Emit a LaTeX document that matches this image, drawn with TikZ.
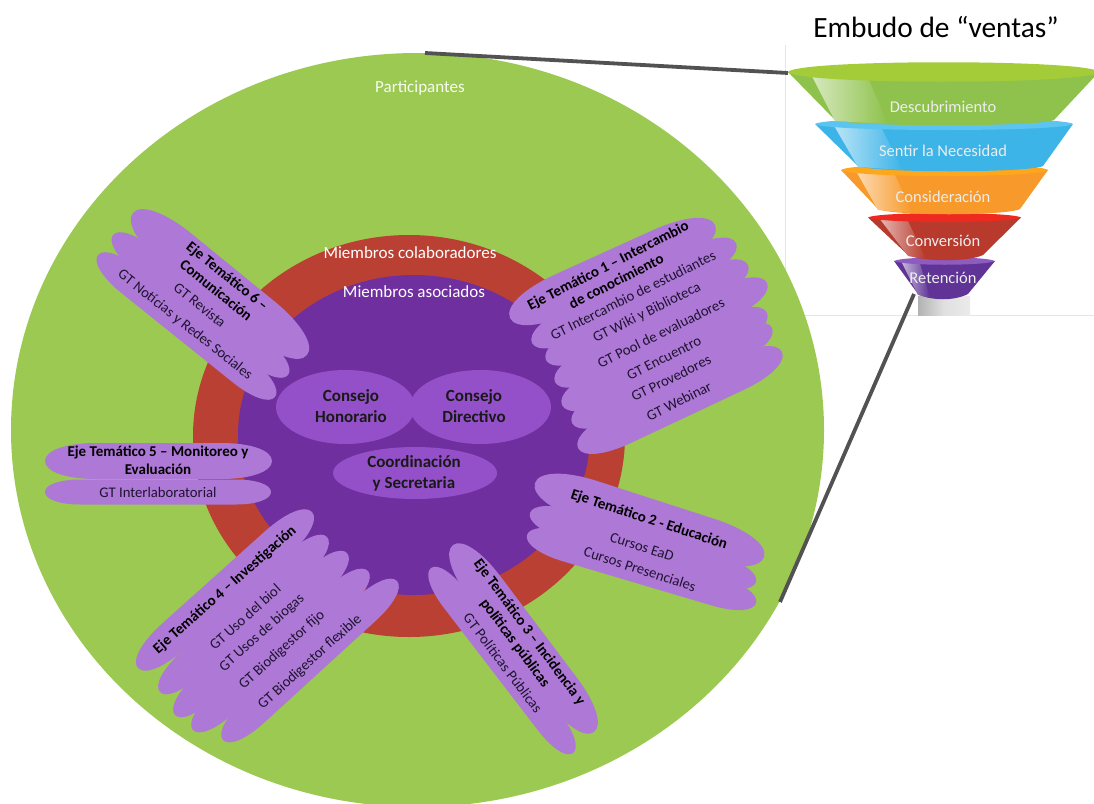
\documentclass[tikz,border=0pt]{standalone}
\usepackage{fontspec}
\setmainfont{Carlito}
\definecolor{cgreen}{HTML}{9CC952}
\definecolor{cred}{HTML}{BA4033}
\definecolor{cpurple}{HTML}{6F2F9F}
\definecolor{cell}{HTML}{9450C8}
\definecolor{cpetal}{HTML}{AE78D6}
\definecolor{cink}{HTML}{1E1430}
\definecolor{fgreenT}{HTML}{A3CC38}\definecolor{fgreenB}{HTML}{8FC24D}
\definecolor{fblueT}{HTML}{5CC4F0}\definecolor{fblueB}{HTML}{3DB4E8}
\definecolor{forangeT}{HTML}{FFA71C}\definecolor{forangeB}{HTML}{F79A2B}
\definecolor{fredT}{HTML}{EE2A20}\definecolor{fredB}{HTML}{B83A2D}
\definecolor{fpurpT}{HTML}{8E5BBF}\definecolor{fpurpB}{HTML}{5F3496}
\tikzset{
  petalshape/.style={fill=cpetal,draw=none},
  lab/.style={font=\fontsize{14.7}{16}\selectfont,text=cink,align=center,inner sep=0pt},
  blab/.style={font=\fontsize{15}{18}\selectfont\bfseries,text=black,align=center,inner sep=0pt},
  wlab/.style={font=\fontsize{17}{20}\selectfont,text=white,inner sep=0pt},
  flab/.style={font=\fontsize{16.5}{18}\selectfont,text=white!93!black,inner sep=0pt},
  clab/.style={font=\fontsize{17}{21}\selectfont\bfseries,text=black!90,align=center,inner sep=0pt},
  conn/.style={draw=black!68,line width=3.8pt},
}
\newcommand{\petal}[5]{%
  \pgfmathsetmacro{\pcx}{(#1+#3)/2}%
  \pgfmathsetmacro{\pcy}{(#2+#4)/2}%
  \pgfmathsetmacro{\pang}{atan2(-(#4-#2),#3-#1)}%
  \pgfmathsetmacro{\pL}{veclen(#3-#1,#4-#2)/2}%
  \pgfmathsetmacro{\pW}{#5}%
  \pgfmathsetmacro{\pA}{\pL-2.8*\pW}%
  \pgfmathsetmacro{\pB}{\pL-1.2*\pW}%
  \begin{scope}[shift={(\pcx,\pcy)},rotate=\pang]
    \fill[petalshape] (-\pL,0) .. controls (-\pL,-0.6*\pW) and (-\pB,-\pW) .. (-\pA,-\pW)
      -- (\pA,-\pW) .. controls (\pB,-\pW) and (\pL,-0.6*\pW) .. (\pL,0)
      .. controls (\pL,0.6*\pW) and (\pB,\pW) .. (\pA,\pW)
      -- (-\pA,\pW) .. controls (-\pB,\pW) and (-\pL,0.6*\pW) .. (-\pL,0) -- cycle;
  \end{scope}}
% top colour, body colour, xl, xr, ytop, xbl, xbr, ybot, lens bulge
\newcommand{\flayer}[9]{%
  \fill[#2] (#3,#5) -- (#6,#8) .. controls (#6+14,#8+7) and (#7-14,#8+7) .. (#7,#8) -- (#4,#5) -- cycle;
  \shade[left color=white!65!#2,right color=#2] (#3+0.07*#4-0.07*#3,#5) -- (#6,#8+1)
     -- (#6+0.24*#7-0.24*#6,#8+4) -- (#3+0.25*#4-0.25*#3,#5) -- cycle;
  \fill[#1] (#3,#5) .. controls (#3+10,#5-#9) and (#4-10,#5-#9) .. (#4,#5)
     .. controls (#4-10,#5+#9) and (#3+10,#5+#9) .. (#3,#5) -- cycle;
}
\begin{document}
\begin{tikzpicture}[x=1pt,y=-1pt]
\useasboundingbox (0,0) rectangle (1094,803);
\begin{scope}
\clip (0,0) rectangle (1094,803);
% funnel picture frame
\draw[black!10,line width=0.6pt] (785,45) -- (785,315) -- (1094,315);
% main circles
\fill[cgreen] (417.5,430) ellipse (406.5 and 377);
\fill[cred] (409,436) ellipse (216 and 201);
\fill[cpurple] (414,435) ellipse (176 and 160);
\node[wlab,text=white!92!cgreen] (part) at (420,88) {Participantes};
\node[wlab] (colab) at (410,253) {Miembros colaboradores};
\node[wlab] (asoc) at (414,292) {Miembros asociados};
% councils
\fill[cell] (345.5,407) ellipse (69.5 and 37);
\fill[cell] (480.5,407) ellipse (70.5 and 37);
\fill[cell] (415,473) ellipse (82 and 26);
\node[clab] (hon) at (351,406.5) {Consejo\\Honorario};
\node[clab] (dir) at (474,406.5) {Consejo\\Directivo};
\node[clab] (coord) at (414,473.5) {Coordinación\\y Secretaria};
% eje 1
\petal{510}{318}{715}{225}{21}
\petal{532}{343}{736}{243}{17}
\petal{546}{360}{748}{265}{17}
\petal{555}{382}{767}{283}{17}
\petal{562}{405}{767}{313}{18}
\petal{572}{423}{772}{328}{17}
\petal{578}{448}{782}{352}{18}
\node[blab,rotate=27] (e1) at (612,273) {Eje Temático 1 – Intercambio\\de conocimiento};
\node[lab,rotate=26.5] (e1a) at (633,295) {GT Intercambio de estudiantes};
\node[lab,rotate=26.5] (e1b) at (647,313) {GT Wiki y Biblioteca};
\node[lab,rotate=26.5] (e1c) at (661,333) {GT Pool de evaluadores};
\node[lab,rotate=26.5] (e1d) at (664,358) {GT Encuentro};
\node[lab,rotate=26.5] (e1e) at (671,378) {GT Provedores};
\node[lab,rotate=26.5] (e1f) at (679,401) {GT Webinar};
% eje 6
\petal{133}{213}{307}{355}{21}
\petal{113}{235}{288}{375}{15}
\petal{98}{255}{275}{397}{15}
\node[blab,rotate=-39] (e6) at (222,283) {Eje Temático 6 –\\Comunicación};
\node[lab,rotate=-39] (e6a) at (200,305) {GT Revista};
\node[lab,rotate=-38.5] (e6b) at (185,325) {GT Notícias y Redes Sociales};
% eje 5
\petal{45}{461}{272}{461}{18}
\petal{45}{492}{271}{492}{12.5}
\node[blab] (e5) at (158,460.5) {Eje Temático 5 – Monitoreo y\\Evaluación};
\node[lab] (e5a) at (158,492) {GT Interlaboratorial};
% eje 4
\petal{138}{668}{312}{512}{17}
\petal{160}{692}{327}{537}{15}
\petal{175}{715}{347}{553}{15}
\petal{193}{730}{368}{571}{15}
\petal{223}{740}{397}{581}{15}
\node[blab,rotate=41.5] (e4) at (225,590) {Eje Temático 4 – Investigación};
\node[lab,rotate=42] (e4a) at (245,617) {GT Uso del biol};
\node[lab,rotate=42] (e4b) at (262,633) {GT Usos de biogas};
\node[lab,rotate=42] (e4c) at (282,650) {GT Biodigestor fijo};
\node[lab,rotate=42] (e4d) at (310,662) {GT Biodigestor flexible};
% eje 3
\petal{453}{545}{594}{732}{19}
\petal{431}{568}{573}{753}{14}
\node[blab,rotate=-53.5] (e3) at (522,638) {Eje Temático 3 – Incidencia y\\políticas públicas};
\node[lab,rotate=-53] (e3a) at (503,663) {GT Políticas Públicas};
% eje 2
\petal{535}{483}{764}{557}{21}
\petal{530}{513}{756}{582}{15}
\petal{527}{535}{756}{603}{15}
\node[blab,rotate=-18] (e2) at (649,520) {Eje Temático 2 - Educación};
\node[lab,rotate=-18] (e2a) at (642,547) {Cursos EaD};
\node[lab,rotate=-18] (e2b) at (640,569) {Cursos Presenciales};
% funnel
\shade[left color=black!30,right color=black!8,middle color=black!12] (918,296) rectangle (970,315);
\flayer{fpurpT}{fpurpB}{894}{995}{261}{918}{968}{294}{5}
\flayer{fredT}{fredB}{868}{1021}{217.5}{908}{983}{255}{6}
\flayer{forangeT}{forangeB}{841}{1048}{170}{878}{1020}{209}{8}
\flayer{fblueT}{fblueB}{815}{1073}{124}{858}{1043}{166}{8}
\flayer{fgreenT}{fgreenB}{788}{1099}{72}{835}{1054}{120}{13}
\node[flab] (f1) at (943,107) {Descubrimiento};
\node[flab] (f2) at (943,151) {Sentir la Necesidad};
\node[flab] (f3) at (943,197) {Consideración};
\node[flab] (f4) at (943,241) {Conversión};
\node[flab] (f5) at (943,278) {Retención};
\node[inner sep=0pt,font=\fontsize{29.4}{32}\selectfont] (title) at (936,27) {Embudo de “ventas”};
% connectors
\coordinate (ctop) at (425,53);
\coordinate (ctopf) at (788,73);
\coordinate (cbot) at (780,602);
\coordinate (cbotf) at (914,294);
\draw[conn] (ctop) -- (ctopf);
\draw[conn] (cbotf) -- (cbot);
\end{scope}
\end{tikzpicture}
\end{document}
